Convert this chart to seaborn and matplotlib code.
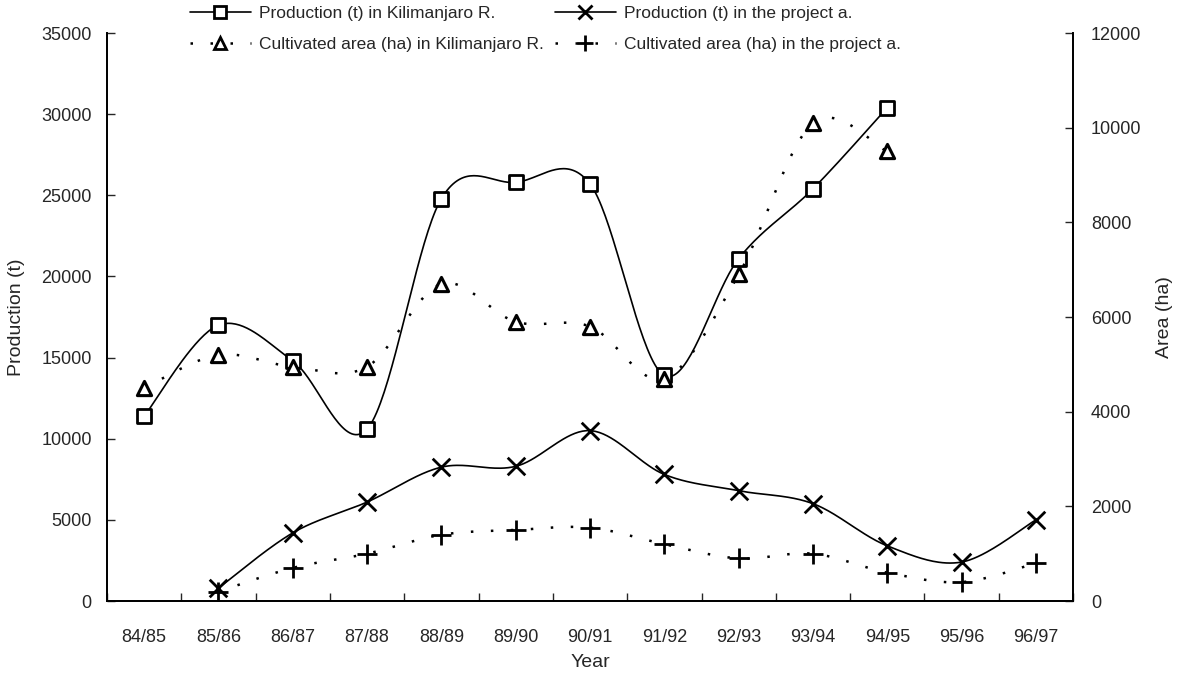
import numpy as np
import matplotlib
matplotlib.use("Agg")
import matplotlib.pyplot as plt
from matplotlib.lines import Line2D
import seaborn as sns

# values
years = ["84/85", "85/86", "86/87", "87/88", "88/89", "89/90", "90/91",
         "91/92", "92/93", "93/94", "94/95", "95/96", "96/97"]

# Kilimanjaro region (84/85 - 94/95)
prod_kili = [11400, 17000, 14800, 10600, 24800, 25800, 25700, 13900, 21100, 25400, 30400]
area_kili = [4500, 5200, 4950, 4950, 6700, 5900, 5800, 4700, 6900, 10100, 9500]

# project area (85/86 - 96/97)
prod_proj = [800, 4200, 6100, 8250, 8300, 10500, 7800, 6800, 6000, 3400, 2400, 5000]
area_proj = [200, 700, 1000, 1400, 1500, 1550, 1200, 900, 1000, 600, 400, 800]

NARROW = ["Liberation Sans Narrow", "Liberation Sans", "DejaVu Sans"]
ARIAL = ["Liberation Sans", "DejaVu Sans"]


def smooth(xs, ys, n=40):
    # Excel-style smoothed line (Catmull-Rom as cubic Bezier)
    p = np.column_stack([xs, ys]).astype(float)
    pts = np.vstack([p[0], p, p[-1]])
    out = []
    for i in range(1, len(pts) - 2):
        p0, p1, p2, p3 = pts[i - 1], pts[i], pts[i + 1], pts[i + 2]
        b1 = p1 + (p2 - p0) / 6
        b2 = p2 - (p3 - p1) / 6
        t = np.linspace(0, 1, n)[:, None]
        seg = ((1 - t) ** 3) * p1 + 3 * ((1 - t) ** 2) * t * b1 + 3 * (1 - t) * t ** 2 * b2 + t ** 3 * p2
        out.append(seg)
    c = np.vstack(out)
    return c[:, 0], c[:, 1]


sns.set_style("ticks")
plt.rcParams["font.family"] = ARIAL

fig, ax = plt.subplots(figsize=(11.84, 6.75), dpi=100)
fig.subplots_adjust(left=0.0904, right=0.9063, top=0.951, bottom=0.1096)
ax2 = ax.twinx()

xk = np.arange(len(prod_kili))
xp = np.arange(1, 1 + len(prod_proj))

dotted = (0, (1, 7))

# production lines (left axis)
ax.plot(*smooth(xk, prod_kili), color="black", lw=1.2)
ax.plot(*smooth(xp, prod_proj), color="black", lw=1.2)
sns.scatterplot(x=xk, y=prod_kili, ax=ax, marker="s", s=115, facecolor="white",
                edgecolor="black", linewidth=2, zorder=5)
sns.scatterplot(x=xp, y=prod_proj, ax=ax, marker="x", s=160, color="black",
                linewidth=2, zorder=5)

# cultivated area lines (right axis)
ax2.plot(*smooth(xk, area_kili), color="black", lw=1.8, linestyle=dotted)
ax2.plot(*smooth(xp, area_proj), color="black", lw=1.8, linestyle=dotted)
sns.scatterplot(x=xk, y=area_kili, ax=ax2, marker="^", s=105, facecolor="white",
                edgecolor="black", linewidth=2.2, zorder=5)
sns.scatterplot(x=xp, y=area_proj, ax=ax2, marker="+", s=190, color="black",
                linewidth=2, zorder=5)

ax.set_xlim(-0.45, 12.5)
ax.set_ylim(0, 35000)
ax2.set_ylim(0, 12000)
ax.set_yticks(np.arange(0, 35001, 5000))
ax2.set_yticks(np.arange(0, 12001, 2000))
ax.set_xticks(np.arange(len(years)))
ax.set_xticklabels(years, fontfamily=NARROW, fontsize=13)
ax.set_xticks(np.arange(-0.5, 12.6, 1), minor=True)
ax.tick_params(axis="x", which="major", length=0, pad=20)
ax.tick_params(axis="x", which="minor", direction="in", length=6, width=1)
ax.tick_params(axis="y", direction="in", length=6, width=1, labelsize=13, pad=11)
ax2.tick_params(axis="y", direction="in", length=6, width=1, labelsize=13, pad=13)
ax.grid(False)
ax2.grid(False)

for a in (ax, ax2):
    a.spines["top"].set_visible(False)
    for s in ("left", "right", "bottom"):
        a.spines[s].set_linewidth(1.3)
        a.spines[s].set_color("black")
ax2.spines["right"].set_visible(True)

ax.set_ylabel("Production (t)", fontsize=14, labelpad=12)
ax2.set_ylabel("Area (ha)", fontsize=14, labelpad=10)
ax.set_xlabel("Year", fontsize=14, fontfamily=NARROW, labelpad=6)

handles = [
    Line2D([], [], color="black", lw=1.2, marker="s", markersize=9,
           markerfacecolor="white", markeredgewidth=2),
    Line2D([], [], color="black", lw=1.8, linestyle=dotted, marker="^", markersize=8,
           markerfacecolor="white", markeredgewidth=2),
    Line2D([], [], color="black", lw=1.2, marker="x", markersize=10, markeredgewidth=2),
    Line2D([], [], color="black", lw=1.8, linestyle=dotted, marker="+", markersize=12,
           markeredgewidth=2),
]
labels = ["Production (t) in Kilimanjaro R.", "Cultivated area (ha) in Kilimanjaro R.",
          "Production (t) in the project a.", "Cultivated area (ha) in the project a."]
leg = fig.legend(handles, labels, ncol=2, loc="upper left", bbox_to_anchor=(190 / 1184, 0.991),
                 frameon=False, handlelength=3.5, handletextpad=0.5, columnspacing=0.6,
                 labelspacing=0.9, borderpad=0, borderaxespad=0,
                 prop={"family": NARROW, "size": 12.5})

fig.savefig("out.png", dpi=100)
